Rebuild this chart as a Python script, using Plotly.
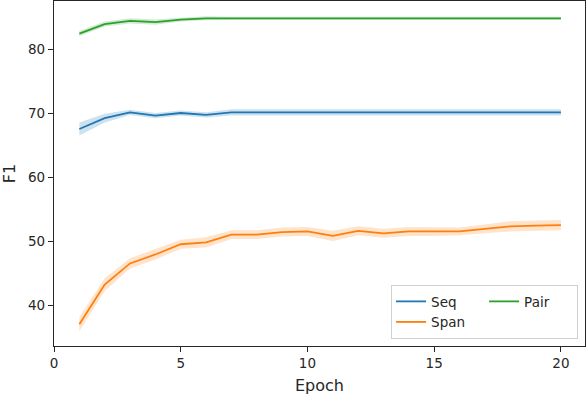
import plotly.graph_objects as go

# epochs and mean F1 per model, with half-width of the shaded band
epochs = list(range(1, 21))

seq = [67.5, 69.2, 70.1, 69.6, 70.0, 69.7, 70.1, 70.1, 70.1, 70.1,
       70.1, 70.1, 70.1, 70.1, 70.1, 70.1, 70.1, 70.1, 70.1, 70.1]
seq_err = [1.0, 0.7, 0.4, 0.4, 0.4, 0.4, 0.5, 0.5, 0.5, 0.5,
           0.5, 0.5, 0.5, 0.5, 0.5, 0.5, 0.5, 0.5, 0.5, 0.5]

span = [37.0, 43.2, 46.5, 47.9, 49.5, 49.8, 51.0, 51.0, 51.4, 51.5,
        50.8, 51.6, 51.2, 51.5, 51.5, 51.5, 51.9, 52.3, 52.4, 52.5]
span_err = [1.1, 1.0, 0.8, 0.8, 0.7, 0.8, 0.7, 0.7, 0.7, 0.7,
            0.8, 0.7, 0.7, 0.7, 0.7, 0.6, 0.7, 0.8, 0.8, 0.8]

pair = [82.4, 83.9, 84.4, 84.2, 84.6, 84.8, 84.8, 84.8, 84.8, 84.8,
        84.8, 84.8, 84.8, 84.8, 84.8, 84.8, 84.8, 84.8, 84.8, 84.8]
pair_err = [0.4, 0.4, 0.4, 0.4, 0.3, 0.3, 0.25, 0.25, 0.25, 0.25,
            0.25, 0.25, 0.25, 0.25, 0.25, 0.25, 0.25, 0.25, 0.25, 0.25]

series = [
    ("Seq", seq, seq_err, "#1f77b4", "rgba(31,119,180,0.22)", "a"),
    ("Span", span, span_err, "#ff7f0e", "rgba(255,127,14,0.22)", "a"),
    ("Pair", pair, pair_err, "#2ca02c", "rgba(44,160,44,0.22)", "b"),
]

fig = go.Figure()

for name, vals, err, col, fillcol, grp in series:
    lo = [v - e for v, e in zip(vals, err)]
    hi = [v + e for v, e in zip(vals, err)]
    fig.add_trace(go.Scatter(x=epochs, y=lo, mode="lines", line=dict(width=0),
                             showlegend=False, hoverinfo="skip"))
    fig.add_trace(go.Scatter(x=epochs, y=hi, mode="lines", line=dict(width=0),
                             fill="tonexty", fillcolor=fillcol,
                             showlegend=False, hoverinfo="skip"))
    fig.add_trace(go.Scatter(x=epochs, y=vals, mode="lines", name=name,
                             legendgroup=grp,
                             line=dict(color=col, width=1.8)))

axis_style = dict(
    showline=True,
    linecolor="#262626",
    linewidth=1.2,
    mirror=True,
    ticks="outside",
    ticklen=5,
    tickwidth=1.2,
    tickcolor="#262626",
    showgrid=False,
    zeroline=False,
    automargin=False,
    tickfont=dict(size=13.5, color="#262626"),
)

fig.update_layout(
    width=586,
    height=396,
    margin=dict(l=54, r=1, t=1, b=50),
    plot_bgcolor="white",
    paper_bgcolor="white",
    font=dict(family="DejaVu Sans", size=13.5, color="#262626"),
    xaxis=dict(range=[0, 20.95], tickvals=[0, 5, 10, 15, 20],
               title=dict(text="Epoch", standoff=9), **axis_style),
    yaxis=dict(range=[33.6, 87.5], tickvals=[40, 50, 60, 70, 80],
               title=dict(text="F1", standoff=8), **axis_style),
    legend=dict(
        orientation="h",
        traceorder="grouped",
        x=0.987, xanchor="right",
        y=0.02, yanchor="bottom",
        bgcolor="white",
        bordercolor="#d0d0d0",
        borderwidth=1,
        font=dict(size=13.5),
        tracegroupgap=0,
        entrywidth=48,
    ),
    showlegend=True,
)

# page body has a default 8px margin; drop it so the figure sits at 0,0
fig.write_html("out.html", config={"displayModeBar": False},
               post_script="document.body.style.margin='0px';")
